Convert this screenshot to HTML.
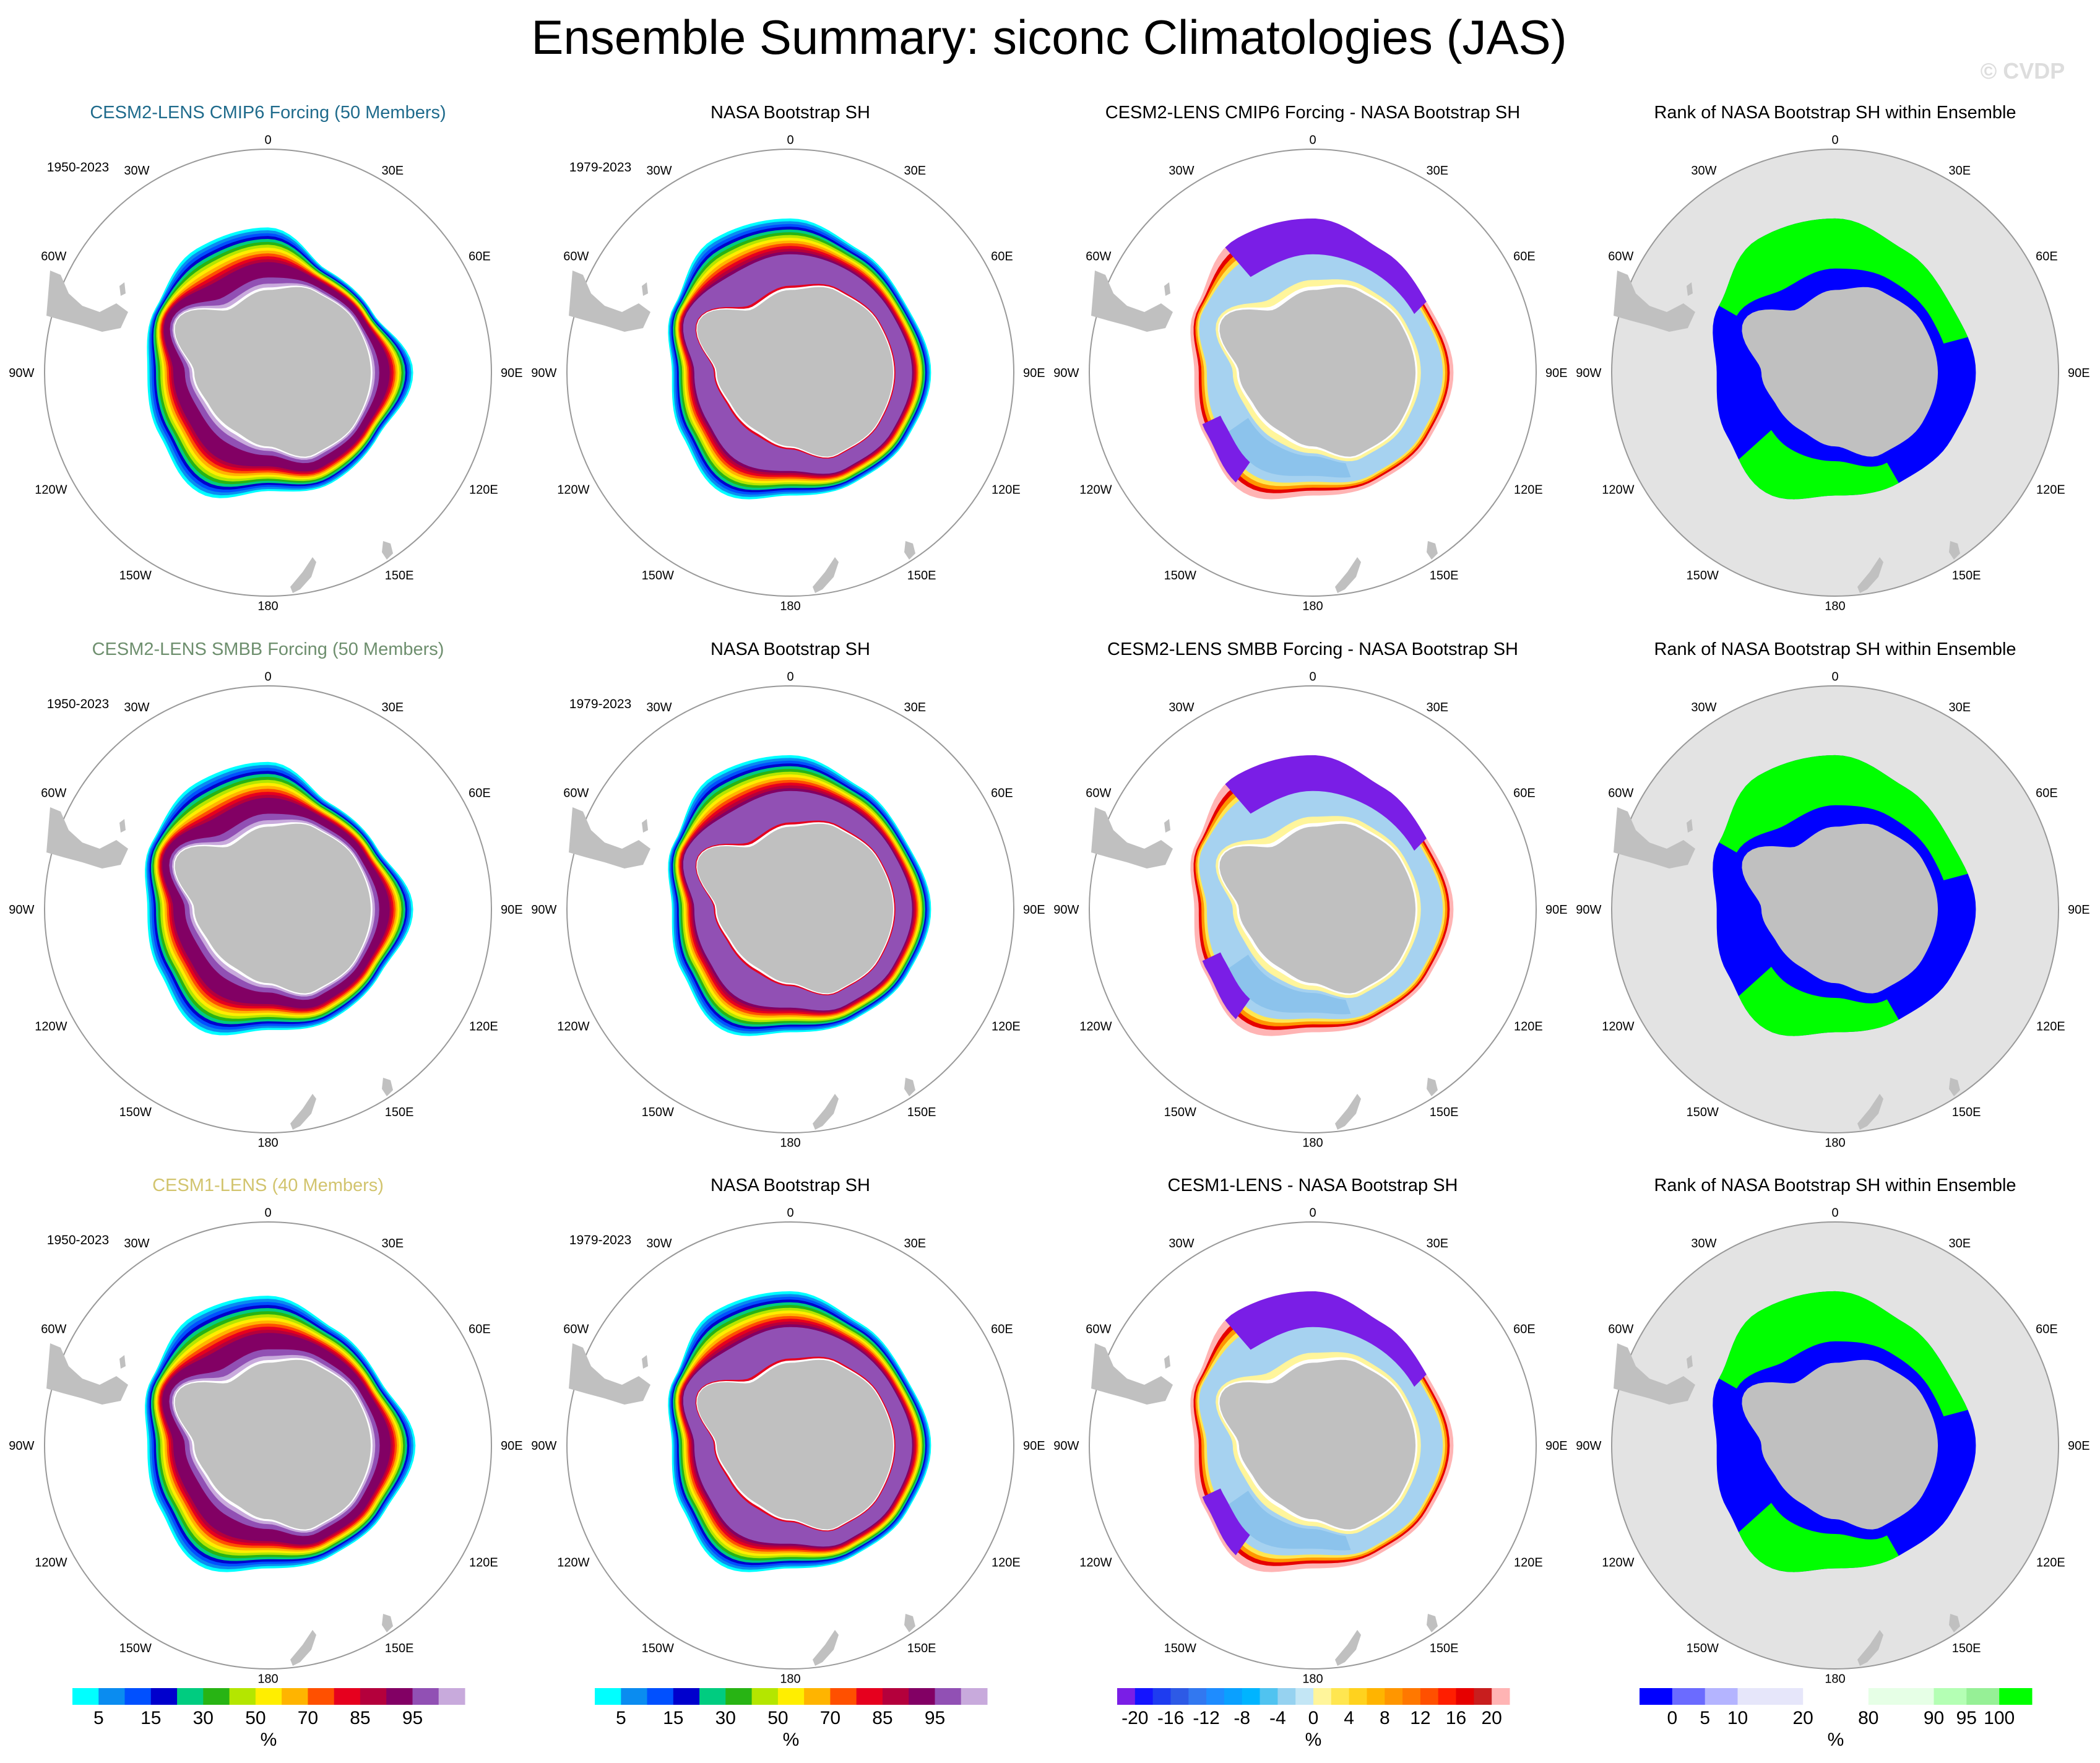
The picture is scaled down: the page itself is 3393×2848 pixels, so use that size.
<!DOCTYPE html>
<html><head><meta charset="utf-8"><style>
html,body{margin:0;padding:0;background:#fff}
svg{display:block;font-family:"Liberation Sans",sans-serif}
</style></head><body>
<svg id="fig" xmlns="http://www.w3.org/2000/svg" width="3393" height="2848" viewBox="0 0 3393 2848">
<text x="1695" y="87" font-size="78" text-anchor="middle">Ensemble Summary: siconc Climatologies (JAS)</text>
<text x="3268" y="127" font-size="36" font-weight="bold" fill="#dddddd" text-anchor="middle">© CVDP</text>
<g id="panels"></g>
<g id="bars"></g>
</svg>
<script>
// ---- data ----
const lonAngles = [0,30,60,90,120,150,180,210,240,270,300,330];
const coastR = [0.37,0.42,0.45,0.46,0.45,0.42,0.33,0.3,0.3,0.33,0.47,0.33];
const edgeModel1 = [0.65,0.53,0.54,0.65,0.57,0.57,0.53,0.62,0.56,0.54,0.58,0.64];
const edgeModel2 = [0.66,0.55,0.56,0.65,0.58,0.57,0.54,0.62,0.56,0.54,0.6,0.65];
const edgeModel3 = [0.67,0.6,0.58,0.66,0.6,0.57,0.55,0.62,0.56,0.54,0.6,0.67];
const edgeObs = [0.69,0.63,0.6,0.63,0.6,0.57,0.55,0.62,0.56,0.53,0.6,0.69];
const rowTitles = ["CESM2-LENS CMIP6 Forcing (50 Members)","CESM2-LENS SMBB Forcing (50 Members)","CESM1-LENS (40 Members)"];
const rowTitleColors = ["#1f6b8c","#6e8f6e","#d2c46e"];
const diffTitles = ["CESM2-LENS CMIP6 Forcing - NASA Bootstrap SH","CESM2-LENS SMBB Forcing - NASA Bootstrap SH","CESM1-LENS - NASA Bootstrap SH"];
const lonLabels = ["0","30E","60E","90E","120E","150E","180","150W","120W","90W","60W","30W"];
const siconcLabels = ["5","15","30","50","70","85","95"];
const diffLabels = ["-20","-16","-12","-8","-4","0","4","8","12","16","20"];
const rankLabels = ["0","5","10","20","80","90","95","100"];
const rankEdges = [0,1,2,3,5,7,9,10,11,12];

// ---- layout ----
const NS="http://www.w3.org/2000/svg";
const K=2.164;
const colX=[433,1277,2121,2965], rowY=[602,1469,2335], R=361;
const lblOff=[[0,-174],[93,-151],[158,-87],[182,0],[161,87],[98,151],[0,174],[-99,151],[-162,87],[-184,0],[-160,-87],[-98,-151]];
const siconcColors=["#00ffff","#0a8cf0","#0050ff","#0000cd","#00cc80","#28b414","#b4e600","#ffee00","#ffb400","#ff5000","#e6001e","#b4003c","#820064","#9150b4","#c8aadc"];
const diffColors=["#7a1ee6","#1414ff","#1e3cf0","#2d5ae6","#3278f0","#1e8cff","#0aa0ff","#00b4ff","#50c3f0","#96d2f0","#c3e6f5","#fff59b","#ffe650","#ffd21e","#ffb400","#ff9600","#ff7800","#ff5000","#ff1e00","#e60000","#c81e1e","#ffb4b4"];
const rankColors=["#0000ff","#6b6bff","#b4b4ff","#e6e6fa","#ffffff","#e6ffe6","#b4ffb4","#96f096","#00ff00"];

function el(tag,attrs,parent){const e=document.createElementNS(NS,tag);for(const k in attrs)e.setAttribute(k,attrs[k]);parent.appendChild(e);return e;}
function interp(arr,deg){deg=((deg%360)+360)%360;const i=Math.floor(deg/30),f=(deg-i*30)/30;const a=arr[i%12],b=arr[(i+1)%12];const w=(1-Math.cos(Math.PI*f))/2;return a+(b-a)*w;}
function pt(cx,cy,r,deg){const a=deg*Math.PI/180;return [cx+r*Math.sin(a),cy-r*Math.cos(a)];}
function ring(cx,cy,edge,t,a0,a1,tIn){
  a0=a0===undefined?0:a0;a1=a1===undefined?360:a1;const pts=[];
  for(let d=a0;d<=a1;d+=3){const c=interp(coastR,d),e=interp(edge,d);pts.push(pt(cx,cy,R*(c+(e-c)*t),d));}
  if(tIn!==undefined){for(let d=a1;d>=a0;d-=3){const c=interp(coastR,d),e=interp(edge,d);pts.push(pt(cx,cy,R*(c+(e-c)*tIn),d));}}
  return pts.map(p=>p[0].toFixed(1)+","+p[1].toFixed(1)).join(" ");
}
const panels=document.getElementById("panels");
function poly(g,cx,cy,pts,name){
  const p=el("polygon",{points:pts.map(q=>(cx+q[0])+","+(cy+q[1])).join(" "),fill:"#c0c0c0"},g);
  
}
function land(g,cx,cy){
  poly(g,cx,cy,[[-352,-165],[-335,-158],[-322,-128],[-300,-108],[-272,-98],[-245,-112],[-226,-98],[-238,-72],[-268,-66],[-300,-76],[-330,-84],[-358,-92]],'south-america-land');
  poly(g,cx,cy,[[-240,-140],[-232,-146],[-230,-128],[-238,-124]],'falkland-islands-land');
  poly(g,cx,cy,[[72,298],[78,306],[70,330],[52,350],[40,356],[36,346],[56,322]],'new-zealand-land');
  poly(g,cx,cy,[[186,272],[198,276],[202,292],[192,302],[184,290]],'tasmania-land');
}
function drawPanel(row,col){
  const cx=colX[col],cy=rowY[row];
  const g=el("g",{},panels);
  
  
  const edge=col===0?[edgeModel1,edgeModel2,edgeModel3][row]:edgeObs;
  const title=col===0?rowTitles[row]:col===1?"NASA Bootstrap SH":col===2?diffTitles[row]:"Rank of NASA Bootstrap SH within Ensemble";
  const tt=el("text",{x:cx,y:cy-411,"font-size":29,"text-anchor":"middle",fill:col===0?rowTitleColors[row]:"#000"},g);
  tt.textContent=title;
  const disc=el("circle",{cx:cx,cy:cy,r:R,fill:col===3?"#e3e3e3":"#ffffff",stroke:"#999","stroke-width":2},g);
  
  let bands=[];
  if(col<2){
    const tEnd=col===0?0.4:0.5, n=13;
    for(let k=0;k<n;k++){bands.push([1-(1-tEnd)*k/n,siconcColors[k]]);}
    if(col===0)bands=bands.concat([[tEnd,"#820064"],[0.2,"#9150b4"],[0.1,"#c8aadc"],[0.04,"#ffffff"]]);
    else bands=bands.concat([[tEnd,"#9150b4"],[0.06,"#e6001e"],[0.03,"#ffffff"]]);
  } else if(col===2){
    bands=[[1,"#ffb4b4"],[0.9,"#e60000"],[0.84,"#ff9600"],[0.78,"#ffe650"],[0.72,"#a6d2f0"],[0.14,"#fff59b"],[0.05,"#ffffff"]];
  } else {
    bands=[[1,"#0000ff"]];
  }
  bands.forEach(b=>{const p=el("polygon",{points:ring(cx,cy,edge,b[0]),fill:b[1]},g);
    });
  if(col===2){
    const p=el("polygon",{points:ring(cx,cy,edge,1,-35,60,0.5),fill:"#7a1ee6"},g);
    
    const q=el("polygon",{points:ring(cx,cy,edge,0.6,160,235,0.2),fill:"#8cc3ec"},g);
    
    const w=el("polygon",{points:ring(cx,cy,edge,0.95,215,245,0.6),fill:"#7a1ee6"},g);
    
  }
  if(col===3){
    const p=el("polygon",{points:ring(cx,cy,edge,1,-60,75,0.3),fill:"#00ff00"},g);
    
    const q=el("polygon",{points:ring(cx,cy,edge,1,150,228,0.3),fill:"#00ff00"},g);
    
  }
  const a=el("polygon",{points:ring(cx,cy,edge,0),fill:"#c0c0c0"},g);
  
  land(g,cx,cy);
  lonLabels.forEach((l,i)=>{const o=lblOff[i];
    const t=el("text",{x:(cx+o[0]*K).toFixed(1),y:(cy+o[1]*K+7).toFixed(1),"font-size":20,"text-anchor":"middle"},g);
    t.textContent=l;});
  if(col<2){const t=el("text",{x:cx-307,y:cy-325,"font-size":21,"text-anchor":"middle"},g);
    t.textContent=col===0?"1950-2023":"1979-2023";}
}
for(let r=0;r<3;r++)for(let c=0;c<4;c++)drawPanel(r,c);

// ---- colorbars ----
const bars=document.getElementById("bars");
const barX0=[117,961,1805,2649],barW=634,barY=2727,barH=27;
function colorbar(i,colors,edges,labels,labelIdx){
  const g=el("g",{},bars);
  const n=edges[edges.length-1];
  colors.forEach((c,k)=>{const x=barX0[i]+barW*edges[k]/n,w=barW*(edges[k+1]-edges[k])/n;
    const r=el("rect",{x:x.toFixed(1),y:barY,width:(w+0.5).toFixed(1),height:barH,fill:c},g);
    });
  labels.forEach((l,k)=>{const x=barX0[i]+barW*edges[labelIdx[k]]/n;
    const t=el("text",{x:x.toFixed(1),y:2785,"font-size":30,"text-anchor":"middle"},g);
    t.textContent=l;});
  const u=el("text",{x:barX0[i]+barW/2,y:2820,"font-size":30,"text-anchor":"middle"},g);
  u.textContent="%";
}
const e15=[...Array(16).keys()],e22=[...Array(23).keys()];
colorbar(0,siconcColors,e15,siconcLabels,[1,3,5,7,9,11,13]);
colorbar(1,siconcColors,e15,siconcLabels,[1,3,5,7,9,11,13]);
colorbar(2,diffColors,e22,diffLabels,[1,3,5,7,9,11,13,15,17,19,21]);
colorbar(3,rankColors,rankEdges,rankLabels,[1,2,3,4,5,6,7,8]);
</script>
</body></html>
